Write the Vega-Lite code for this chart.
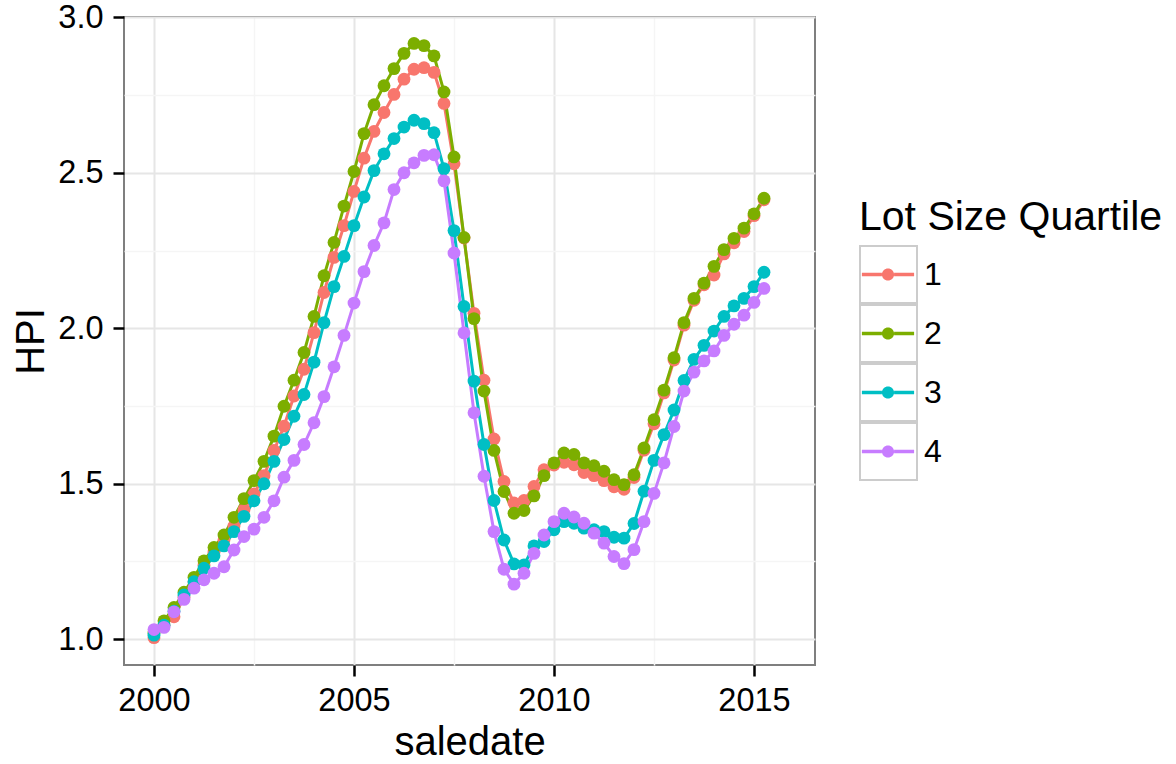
{
  "$schema": "https://vega.github.io/schema/vega-lite/v6.json",
  "width": 691,
  "height": 648,
  "autosize": {"type": "none"},
  "padding": {"left": 124, "top": 17, "right": 361, "bottom": 99},
  "background": "white",
  "data": {
    "values": [
      {"saledate": 2000, "quartile": "1", "HPI": 1.005}, {"saledate": 2000.25, "quartile": "1", "HPI": 1.045}, {"saledate": 2000.5, "quartile": "1", "HPI": 1.072}, {"saledate": 2000.75, "quartile": "1", "HPI": 1.135},
      {"saledate": 2001, "quartile": "1", "HPI": 1.185}, {"saledate": 2001.25, "quartile": "1", "HPI": 1.238}, {"saledate": 2001.5, "quartile": "1", "HPI": 1.28}, {"saledate": 2001.75, "quartile": "1", "HPI": 1.32},
      {"saledate": 2002, "quartile": "1", "HPI": 1.364}, {"saledate": 2002.25, "quartile": "1", "HPI": 1.416}, {"saledate": 2002.5, "quartile": "1", "HPI": 1.467}, {"saledate": 2002.75, "quartile": "1", "HPI": 1.526},
      {"saledate": 2003, "quartile": "1", "HPI": 1.607}, {"saledate": 2003.25, "quartile": "1", "HPI": 1.685}, {"saledate": 2003.5, "quartile": "1", "HPI": 1.782}, {"saledate": 2003.75, "quartile": "1", "HPI": 1.868},
      {"saledate": 2004, "quartile": "1", "HPI": 1.986}, {"saledate": 2004.25, "quartile": "1", "HPI": 2.115}, {"saledate": 2004.5, "quartile": "1", "HPI": 2.228}, {"saledate": 2004.75, "quartile": "1", "HPI": 2.33},
      {"saledate": 2005, "quartile": "1", "HPI": 2.44}, {"saledate": 2005.25, "quartile": "1", "HPI": 2.547}, {"saledate": 2005.5, "quartile": "1", "HPI": 2.633}, {"saledate": 2005.75, "quartile": "1", "HPI": 2.694},
      {"saledate": 2006, "quartile": "1", "HPI": 2.752}, {"saledate": 2006.25, "quartile": "1", "HPI": 2.801}, {"saledate": 2006.5, "quartile": "1", "HPI": 2.833}, {"saledate": 2006.75, "quartile": "1", "HPI": 2.838},
      {"saledate": 2007, "quartile": "1", "HPI": 2.823}, {"saledate": 2007.25, "quartile": "1", "HPI": 2.723}, {"saledate": 2007.5, "quartile": "1", "HPI": 2.529}, {"saledate": 2007.75, "quartile": "1", "HPI": 2.29},
      {"saledate": 2008, "quartile": "1", "HPI": 2.048}, {"saledate": 2008.25, "quartile": "1", "HPI": 1.833}, {"saledate": 2008.5, "quartile": "1", "HPI": 1.644}, {"saledate": 2008.75, "quartile": "1", "HPI": 1.507},
      {"saledate": 2009, "quartile": "1", "HPI": 1.438}, {"saledate": 2009.25, "quartile": "1", "HPI": 1.446}, {"saledate": 2009.5, "quartile": "1", "HPI": 1.491}, {"saledate": 2009.75, "quartile": "1", "HPI": 1.545},
      {"saledate": 2010, "quartile": "1", "HPI": 1.56}, {"saledate": 2010.25, "quartile": "1", "HPI": 1.569}, {"saledate": 2010.5, "quartile": "1", "HPI": 1.561}, {"saledate": 2010.75, "quartile": "1", "HPI": 1.536},
      {"saledate": 2011, "quartile": "1", "HPI": 1.526}, {"saledate": 2011.25, "quartile": "1", "HPI": 1.51}, {"saledate": 2011.5, "quartile": "1", "HPI": 1.49}, {"saledate": 2011.75, "quartile": "1", "HPI": 1.482},
      {"saledate": 2012, "quartile": "1", "HPI": 1.52}, {"saledate": 2012.25, "quartile": "1", "HPI": 1.608}, {"saledate": 2012.5, "quartile": "1", "HPI": 1.693}, {"saledate": 2012.75, "quartile": "1", "HPI": 1.792},
      {"saledate": 2013, "quartile": "1", "HPI": 1.898}, {"saledate": 2013.25, "quartile": "1", "HPI": 2.01}, {"saledate": 2013.5, "quartile": "1", "HPI": 2.09}, {"saledate": 2013.75, "quartile": "1", "HPI": 2.14},
      {"saledate": 2014, "quartile": "1", "HPI": 2.171}, {"saledate": 2014.25, "quartile": "1", "HPI": 2.239}, {"saledate": 2014.5, "quartile": "1", "HPI": 2.275}, {"saledate": 2014.75, "quartile": "1", "HPI": 2.311},
      {"saledate": 2015, "quartile": "1", "HPI": 2.362}, {"saledate": 2015.25, "quartile": "1", "HPI": 2.413},

      {"saledate": 2000, "quartile": "2", "HPI": 1.02}, {"saledate": 2000.25, "quartile": "2", "HPI": 1.059}, {"saledate": 2000.5, "quartile": "2", "HPI": 1.102}, {"saledate": 2000.75, "quartile": "2", "HPI": 1.151},
      {"saledate": 2001, "quartile": "2", "HPI": 1.199}, {"saledate": 2001.25, "quartile": "2", "HPI": 1.252}, {"saledate": 2001.5, "quartile": "2", "HPI": 1.295}, {"saledate": 2001.75, "quartile": "2", "HPI": 1.335},
      {"saledate": 2002, "quartile": "2", "HPI": 1.392}, {"saledate": 2002.25, "quartile": "2", "HPI": 1.452}, {"saledate": 2002.5, "quartile": "2", "HPI": 1.51}, {"saledate": 2002.75, "quartile": "2", "HPI": 1.572},
      {"saledate": 2003, "quartile": "2", "HPI": 1.653}, {"saledate": 2003.25, "quartile": "2", "HPI": 1.749}, {"saledate": 2003.5, "quartile": "2", "HPI": 1.833}, {"saledate": 2003.75, "quartile": "2", "HPI": 1.922},
      {"saledate": 2004, "quartile": "2", "HPI": 2.038}, {"saledate": 2004.25, "quartile": "2", "HPI": 2.169}, {"saledate": 2004.5, "quartile": "2", "HPI": 2.276}, {"saledate": 2004.75, "quartile": "2", "HPI": 2.393},
      {"saledate": 2005, "quartile": "2", "HPI": 2.504}, {"saledate": 2005.25, "quartile": "2", "HPI": 2.626}, {"saledate": 2005.5, "quartile": "2", "HPI": 2.719}, {"saledate": 2005.75, "quartile": "2", "HPI": 2.78},
      {"saledate": 2006, "quartile": "2", "HPI": 2.835}, {"saledate": 2006.25, "quartile": "2", "HPI": 2.884}, {"saledate": 2006.5, "quartile": "2", "HPI": 2.916}, {"saledate": 2006.75, "quartile": "2", "HPI": 2.909},
      {"saledate": 2007, "quartile": "2", "HPI": 2.876}, {"saledate": 2007.25, "quartile": "2", "HPI": 2.76}, {"saledate": 2007.5, "quartile": "2", "HPI": 2.551}, {"saledate": 2007.75, "quartile": "2", "HPI": 2.292},
      {"saledate": 2008, "quartile": "2", "HPI": 2.031}, {"saledate": 2008.25, "quartile": "2", "HPI": 1.798}, {"saledate": 2008.5, "quartile": "2", "HPI": 1.607}, {"saledate": 2008.75, "quartile": "2", "HPI": 1.475},
      {"saledate": 2009, "quartile": "2", "HPI": 1.405}, {"saledate": 2009.25, "quartile": "2", "HPI": 1.414}, {"saledate": 2009.5, "quartile": "2", "HPI": 1.461}, {"saledate": 2009.75, "quartile": "2", "HPI": 1.526},
      {"saledate": 2010, "quartile": "2", "HPI": 1.567}, {"saledate": 2010.25, "quartile": "2", "HPI": 1.599}, {"saledate": 2010.5, "quartile": "2", "HPI": 1.594}, {"saledate": 2010.75, "quartile": "2", "HPI": 1.567},
      {"saledate": 2011, "quartile": "2", "HPI": 1.558}, {"saledate": 2011.25, "quartile": "2", "HPI": 1.54}, {"saledate": 2011.5, "quartile": "2", "HPI": 1.513}, {"saledate": 2011.75, "quartile": "2", "HPI": 1.497},
      {"saledate": 2012, "quartile": "2", "HPI": 1.529}, {"saledate": 2012.25, "quartile": "2", "HPI": 1.615}, {"saledate": 2012.5, "quartile": "2", "HPI": 1.706}, {"saledate": 2012.75, "quartile": "2", "HPI": 1.801},
      {"saledate": 2013, "quartile": "2", "HPI": 1.905}, {"saledate": 2013.25, "quartile": "2", "HPI": 2.018}, {"saledate": 2013.5, "quartile": "2", "HPI": 2.096}, {"saledate": 2013.75, "quartile": "2", "HPI": 2.145},
      {"saledate": 2014, "quartile": "2", "HPI": 2.199}, {"saledate": 2014.25, "quartile": "2", "HPI": 2.253}, {"saledate": 2014.5, "quartile": "2", "HPI": 2.289}, {"saledate": 2014.75, "quartile": "2", "HPI": 2.322},
      {"saledate": 2015, "quartile": "2", "HPI": 2.368}, {"saledate": 2015.25, "quartile": "2", "HPI": 2.418},

      {"saledate": 2000, "quartile": "3", "HPI": 1.013}, {"saledate": 2000.25, "quartile": "3", "HPI": 1.045}, {"saledate": 2000.5, "quartile": "3", "HPI": 1.09}, {"saledate": 2000.75, "quartile": "3", "HPI": 1.142},
      {"saledate": 2001, "quartile": "3", "HPI": 1.185}, {"saledate": 2001.25, "quartile": "3", "HPI": 1.228}, {"saledate": 2001.5, "quartile": "3", "HPI": 1.268}, {"saledate": 2001.75, "quartile": "3", "HPI": 1.3},
      {"saledate": 2002, "quartile": "3", "HPI": 1.346}, {"saledate": 2002.25, "quartile": "3", "HPI": 1.395}, {"saledate": 2002.5, "quartile": "3", "HPI": 1.445}, {"saledate": 2002.75, "quartile": "3", "HPI": 1.5},
      {"saledate": 2003, "quartile": "3", "HPI": 1.572}, {"saledate": 2003.25, "quartile": "3", "HPI": 1.642}, {"saledate": 2003.5, "quartile": "3", "HPI": 1.717}, {"saledate": 2003.75, "quartile": "3", "HPI": 1.787},
      {"saledate": 2004, "quartile": "3", "HPI": 1.891}, {"saledate": 2004.25, "quartile": "3", "HPI": 2.018}, {"saledate": 2004.5, "quartile": "3", "HPI": 2.134}, {"saledate": 2004.75, "quartile": "3", "HPI": 2.231},
      {"saledate": 2005, "quartile": "3", "HPI": 2.33}, {"saledate": 2005.25, "quartile": "3", "HPI": 2.422}, {"saledate": 2005.5, "quartile": "3", "HPI": 2.507}, {"saledate": 2005.75, "quartile": "3", "HPI": 2.561},
      {"saledate": 2006, "quartile": "3", "HPI": 2.61}, {"saledate": 2006.25, "quartile": "3", "HPI": 2.647}, {"saledate": 2006.5, "quartile": "3", "HPI": 2.669}, {"saledate": 2006.75, "quartile": "3", "HPI": 2.658},
      {"saledate": 2007, "quartile": "3", "HPI": 2.629}, {"saledate": 2007.25, "quartile": "3", "HPI": 2.513}, {"saledate": 2007.5, "quartile": "3", "HPI": 2.314}, {"saledate": 2007.75, "quartile": "3", "HPI": 2.07},
      {"saledate": 2008, "quartile": "3", "HPI": 1.83}, {"saledate": 2008.25, "quartile": "3", "HPI": 1.626}, {"saledate": 2008.5, "quartile": "3", "HPI": 1.446}, {"saledate": 2008.75, "quartile": "3", "HPI": 1.319},
      {"saledate": 2009, "quartile": "3", "HPI": 1.242}, {"saledate": 2009.25, "quartile": "3", "HPI": 1.239}, {"saledate": 2009.5, "quartile": "3", "HPI": 1.3}, {"saledate": 2009.75, "quartile": "3", "HPI": 1.314},
      {"saledate": 2010, "quartile": "3", "HPI": 1.352}, {"saledate": 2010.25, "quartile": "3", "HPI": 1.378}, {"saledate": 2010.5, "quartile": "3", "HPI": 1.373}, {"saledate": 2010.75, "quartile": "3", "HPI": 1.357},
      {"saledate": 2011, "quartile": "3", "HPI": 1.352}, {"saledate": 2011.25, "quartile": "3", "HPI": 1.346}, {"saledate": 2011.5, "quartile": "3", "HPI": 1.328}, {"saledate": 2011.75, "quartile": "3", "HPI": 1.325},
      {"saledate": 2012, "quartile": "3", "HPI": 1.372}, {"saledate": 2012.25, "quartile": "3", "HPI": 1.476}, {"saledate": 2012.5, "quartile": "3", "HPI": 1.575}, {"saledate": 2012.75, "quartile": "3", "HPI": 1.658},
      {"saledate": 2013, "quartile": "3", "HPI": 1.737}, {"saledate": 2013.25, "quartile": "3", "HPI": 1.832}, {"saledate": 2013.5, "quartile": "3", "HPI": 1.9}, {"saledate": 2013.75, "quartile": "3", "HPI": 1.945},
      {"saledate": 2014, "quartile": "3", "HPI": 1.991}, {"saledate": 2014.25, "quartile": "3", "HPI": 2.038}, {"saledate": 2014.5, "quartile": "3", "HPI": 2.072}, {"saledate": 2014.75, "quartile": "3", "HPI": 2.096},
      {"saledate": 2015, "quartile": "3", "HPI": 2.134}, {"saledate": 2015.25, "quartile": "3", "HPI": 2.18},

      {"saledate": 2000, "quartile": "4", "HPI": 1.031}, {"saledate": 2000.25, "quartile": "4", "HPI": 1.038}, {"saledate": 2000.5, "quartile": "4", "HPI": 1.088}, {"saledate": 2000.75, "quartile": "4", "HPI": 1.128},
      {"saledate": 2001, "quartile": "4", "HPI": 1.164}, {"saledate": 2001.25, "quartile": "4", "HPI": 1.191}, {"saledate": 2001.5, "quartile": "4", "HPI": 1.212}, {"saledate": 2001.75, "quartile": "4", "HPI": 1.233},
      {"saledate": 2002, "quartile": "4", "HPI": 1.287}, {"saledate": 2002.25, "quartile": "4", "HPI": 1.33}, {"saledate": 2002.5, "quartile": "4", "HPI": 1.354}, {"saledate": 2002.75, "quartile": "4", "HPI": 1.392},
      {"saledate": 2003, "quartile": "4", "HPI": 1.445}, {"saledate": 2003.25, "quartile": "4", "HPI": 1.521}, {"saledate": 2003.5, "quartile": "4", "HPI": 1.575}, {"saledate": 2003.75, "quartile": "4", "HPI": 1.626},
      {"saledate": 2004, "quartile": "4", "HPI": 1.696}, {"saledate": 2004.25, "quartile": "4", "HPI": 1.78}, {"saledate": 2004.5, "quartile": "4", "HPI": 1.876}, {"saledate": 2004.75, "quartile": "4", "HPI": 1.977},
      {"saledate": 2005, "quartile": "4", "HPI": 2.081}, {"saledate": 2005.25, "quartile": "4", "HPI": 2.182}, {"saledate": 2005.5, "quartile": "4", "HPI": 2.266}, {"saledate": 2005.75, "quartile": "4", "HPI": 2.339},
      {"saledate": 2006, "quartile": "4", "HPI": 2.446}, {"saledate": 2006.25, "quartile": "4", "HPI": 2.5}, {"saledate": 2006.5, "quartile": "4", "HPI": 2.532}, {"saledate": 2006.75, "quartile": "4", "HPI": 2.556},
      {"saledate": 2007, "quartile": "4", "HPI": 2.558}, {"saledate": 2007.25, "quartile": "4", "HPI": 2.474}, {"saledate": 2007.5, "quartile": "4", "HPI": 2.242}, {"saledate": 2007.75, "quartile": "4", "HPI": 1.985},
      {"saledate": 2008, "quartile": "4", "HPI": 1.728}, {"saledate": 2008.25, "quartile": "4", "HPI": 1.524}, {"saledate": 2008.5, "quartile": "4", "HPI": 1.346}, {"saledate": 2008.75, "quartile": "4", "HPI": 1.225},
      {"saledate": 2009, "quartile": "4", "HPI": 1.177}, {"saledate": 2009.25, "quartile": "4", "HPI": 1.212}, {"saledate": 2009.5, "quartile": "4", "HPI": 1.276}, {"saledate": 2009.75, "quartile": "4", "HPI": 1.335},
      {"saledate": 2010, "quartile": "4", "HPI": 1.378}, {"saledate": 2010.25, "quartile": "4", "HPI": 1.405}, {"saledate": 2010.5, "quartile": "4", "HPI": 1.393}, {"saledate": 2010.75, "quartile": "4", "HPI": 1.373},
      {"saledate": 2011, "quartile": "4", "HPI": 1.341}, {"saledate": 2011.25, "quartile": "4", "HPI": 1.309}, {"saledate": 2011.5, "quartile": "4", "HPI": 1.266}, {"saledate": 2011.75, "quartile": "4", "HPI": 1.243},
      {"saledate": 2012, "quartile": "4", "HPI": 1.288}, {"saledate": 2012.25, "quartile": "4", "HPI": 1.378}, {"saledate": 2012.5, "quartile": "4", "HPI": 1.469}, {"saledate": 2012.75, "quartile": "4", "HPI": 1.567},
      {"saledate": 2013, "quartile": "4", "HPI": 1.684}, {"saledate": 2013.25, "quartile": "4", "HPI": 1.798}, {"saledate": 2013.5, "quartile": "4", "HPI": 1.859}, {"saledate": 2013.75, "quartile": "4", "HPI": 1.895},
      {"saledate": 2014, "quartile": "4", "HPI": 1.927}, {"saledate": 2014.25, "quartile": "4", "HPI": 1.977}, {"saledate": 2014.5, "quartile": "4", "HPI": 2.013}, {"saledate": 2014.75, "quartile": "4", "HPI": 2.042},
      {"saledate": 2015, "quartile": "4", "HPI": 2.083}, {"saledate": 2015.25, "quartile": "4", "HPI": 2.128}
    ]
  },
  "encoding": {
    "x": {
      "field": "saledate",
      "type": "quantitative",
      "title": "saledate",
      "scale": {"domain": [1999.25, 2016.525], "nice": false, "zero": false},
      "axis": {
        "values": [2000, 2002.5, 2005, 2007.5, 2010, 2012.5, 2015],
        "labelExpr": "datum.value % 5 == 0 ? format(datum.value, 'd') : ''",
        "tickOpacity": {"condition": {"test": "datum.value % 5 == 0", "value": 1}, "value": 0},
        "gridColor": {"condition": {"test": "datum.value % 5 == 0", "value": "#e6e6e6"}, "value": "#f5f5f5"},
        "gridWidth": {"condition": {"test": "datum.value % 5 == 0", "value": 2}, "value": 1.5},
        "labelPadding": 8,
        "titleBaseline": "alphabetic",
        "titleY": 89
      }
    },
    "y": {
      "field": "HPI",
      "type": "quantitative",
      "title": "HPI",
      "scale": {"domain": [0.917, 3.001], "nice": false, "zero": false},
      "axis": {
        "values": [1, 1.25, 1.5, 1.75, 2, 2.25, 2.5, 2.75, 3],
        "labelExpr": "round(datum.value * 2) == datum.value * 2 ? format(datum.value, '.1f') : ''",
        "tickOpacity": {"condition": {"test": "round(datum.value * 2) == datum.value * 2", "value": 1}, "value": 0},
        "gridColor": {"condition": {"test": "round(datum.value * 2) == datum.value * 2", "value": "#e6e6e6"}, "value": "#f5f5f5"},
        "gridWidth": {"condition": {"test": "round(datum.value * 2) == datum.value * 2", "value": 2}, "value": 1.5},
        "labelPadding": 10,
        "titleBaseline": "alphabetic",
        "titleX": -81
      }
    },
    "color": {
      "field": "quartile",
      "type": "nominal",
      "scale": {"domain": ["1", "2", "3", "4"], "range": ["#F8766D", "#7CAE00", "#00BFC4", "#C77CFF"]},
      "legend": {
        "title": "Lot Size Quartile",
        "orient": "none",
        "legendX": 735,
        "legendY": 181,
        "zindex": 2,
        "padding": 0,
        "titlePadding": 6,
        "titleLimit": 600,
        "titleFontSize": 41,
        "titleFontWeight": "normal",
        "titleColor": "#000000",
        "titleFont": "Liberation Sans",
        "labelFontSize": 32,
        "labelColor": "#000000",
        "labelFont": "Liberation Sans",
        "labelOffset": 7,
        "rowPadding": 0,
        "clipHeight": 59,
        "symbolType": "M-0.9,-0.06H-0.21V0.06H-0.9Z M0.21,-0.06H0.9V0.06H0.21Z M0.21,0A0.21,0.21 0 1,1 -0.21,0A0.21,0.21 0 1,1 0.21,0Z",
        "symbolSize": 3364,
        "symbolStrokeWidth": 0,
        "encode": {
          "symbols": {"update": {"fill": {"scale": "color", "field": "value"}, "stroke": {"value": "transparent"}, "opacity": {"value": 1}}}
        }
      }
    }
  },
  "layer": [
    {
      "mark": {"type": "line", "strokeWidth": 3},
      "encoding": {
        "opacity": {
          "field": "quartile",
          "type": "ordinal",
          "scale": {"range": [1, 1, 1, 1]},
          "legend": {
            "title": null,
            "orient": "none",
            "legendX": 735,
            "legendY": 228,
            "zindex": 1,
            "padding": 0,
            "rowPadding": 0,
            "clipHeight": 59,
            "labelExpr": "''",
            "symbolType": "square",
            "symbolSize": 3249,
            "symbolStrokeWidth": 2,
            "encode": {
              "symbols": {"update": {"fill": {"value": "white"}, "stroke": {"value": "#cccccc"}, "strokeWidth": {"value": 2}, "opacity": {"value": 1}}}
            }
          }
        }
      }
    },
    {"mark": {"type": "point", "filled": true, "size": 165, "opacity": 1}}
  ],
  "config": {
    "font": "Liberation Sans",
    "view": {"stroke": "#7f7f7f", "strokeWidth": 2},
    "axis": {
      "domain": false,
      "grid": true,
      "tickSize": 11,
      "tickWidth": 2.5,
      "tickColor": "#000000",
      "labelFont": "Liberation Sans",
      "labelFontSize": 32.5,
      "labelColor": "#000000",
      "labelOverlap": false,
      "labelFlush": false,
      "titleFont": "Liberation Sans",
      "titleFontSize": 40,
      "titleFontWeight": "normal",
      "titleColor": "#000000"
    }
  }
}
